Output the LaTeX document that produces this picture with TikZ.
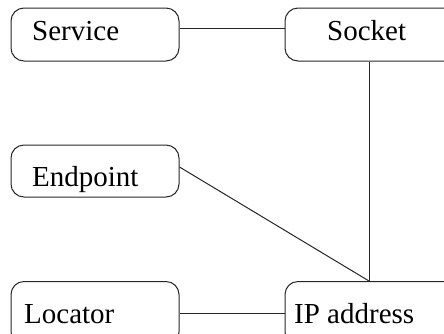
\documentclass[tikz,border=0pt]{standalone}
\usepackage{fontspec}
\setmainfont{Liberation Serif}
\begin{document}
\begin{tikzpicture}[x=1pt,y=-1pt,
  box/.style={draw=black!85, line width=1pt, rounded corners=13pt, rectangle, inner sep=0pt},
  lbl/.style={anchor=base west, inner sep=0pt, font=\fontsize{29}{34}\selectfont},
  link/.style={draw=black!85, line width=1pt}]
\useasboundingbox (0,0) rectangle (444,333);
\clip (0,0) rectangle (444,333);
% rounded boxes (corner coordinates in px)
\node[box, fit/.style={}] (service) at (95,34.5) [minimum width=168pt, minimum height=53pt] {};
\node[box] (socket) at (372.5,34.5) [minimum width=175pt, minimum height=53pt] {};
\node[box] (endpoint) at (95,171) [minimum width=168pt, minimum height=52pt] {};
\node[box] (locator) at (95,313.25) [minimum width=168pt, minimum height=63.5pt] {};
\node[box] (ip) at (372.5,313.25) [minimum width=175pt, minimum height=63.5pt] {};
% labels
\node[lbl] (tservice) at (32,40) {Service};
\node[lbl] (tsocket) at (327,40) {Socket};
\node[lbl] (tendpoint) at (32,186) {Endpoint};
\node[lbl] (tlocator) at (24,323) {Locator};
\node[lbl] (tip) at (294,323) {IP address};
% connectors
\draw[link] ([yshift=6.5pt]service.east) -- ([yshift=6.5pt]socket.west);
\draw[link] ([xshift=-3.5pt]socket.south) -- ([xshift=-3.5pt]ip.north);
\draw[link] ([yshift=4pt]endpoint.east) -- ([xshift=-3.5pt]ip.north);
\draw[link] (locator.east) -- (ip.west);
\end{tikzpicture}
\end{document}
